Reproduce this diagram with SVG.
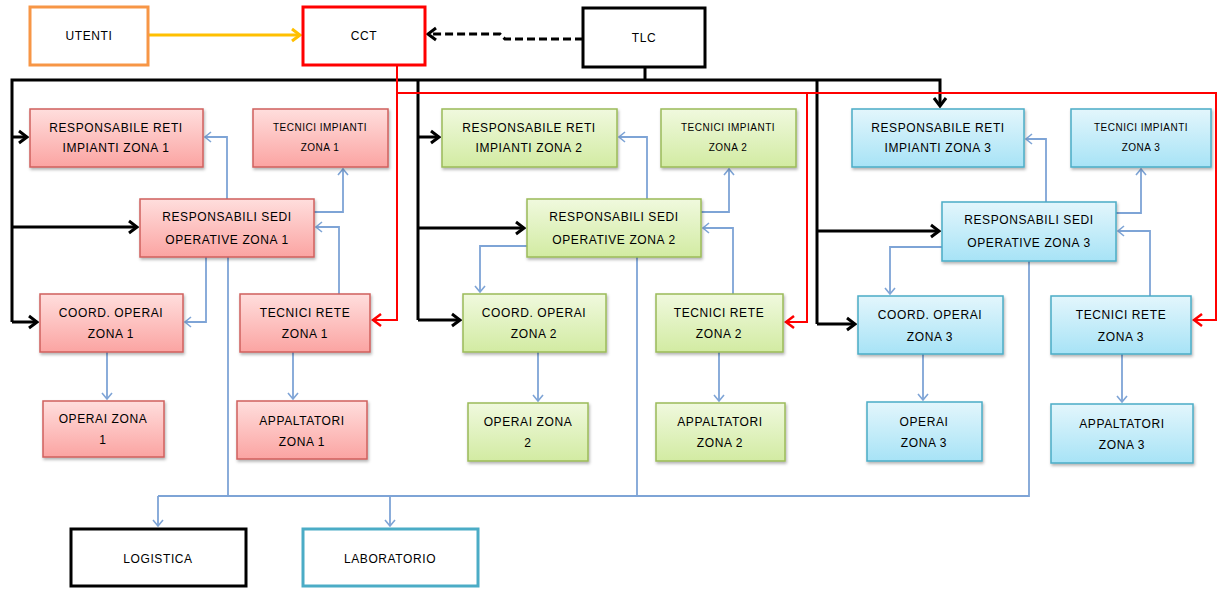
<svg xmlns="http://www.w3.org/2000/svg" width="1219" height="589" viewBox="0 0 1219 589">
<style>
text{font-family:"Liberation Sans",Arial,sans-serif;font-size:12px;fill:#000;text-anchor:middle;letter-spacing:0.6px}
.sm{font-size:10px;letter-spacing:0.5px}
.z1{fill:url(#gr);stroke:#D0605D;stroke-width:1.5;filter:url(#sh)}
.z2{fill:url(#gg);stroke:#9BBB59;stroke-width:1.5;filter:url(#sh)}
.z3{fill:url(#gb);stroke:#4BACC6;stroke-width:1.5;filter:url(#sh)}
.top{fill:#fff;stroke-width:3}
.bl{fill:none;stroke:#000;stroke-width:3}
.rd{fill:none;stroke:#FF0000;stroke-width:2}
.bu{fill:none;stroke:#7EA4D6;stroke-width:1.8}
</style>
<defs>
<linearGradient id="gr" x1="0" y1="0" x2="0" y2="1"><stop offset="0" stop-color="#FFDEDD"/><stop offset="1" stop-color="#FBA4A2"/></linearGradient>
<linearGradient id="gg" x1="0" y1="0" x2="0" y2="1"><stop offset="0" stop-color="#F0F9DE"/><stop offset="1" stop-color="#D2EBA2"/></linearGradient>
<linearGradient id="gb" x1="0" y1="0" x2="0" y2="1"><stop offset="0" stop-color="#E3F6FC"/><stop offset="1" stop-color="#A7E3F6"/></linearGradient>
<filter id="sh" x="-10%" y="-10%" width="125%" height="130%"><feDropShadow dx="1" dy="2" stdDeviation="1.5" flood-color="#000" flood-opacity="0.3"/></filter>
<marker id="ab" markerUnits="userSpaceOnUse" markerWidth="14" markerHeight="16" viewBox="-12 -8 14 16" refX="0" refY="0" orient="auto"><path d="M-8,-6 L0,0 L-8,6" fill="none" stroke="#000" stroke-width="3"/></marker>
<marker id="ar" markerUnits="userSpaceOnUse" markerWidth="14" markerHeight="16" viewBox="-12 -8 14 16" refX="0" refY="0" orient="auto"><path d="M-8,-6 L0,0 L-8,6" fill="none" stroke="#FF0000" stroke-width="2.5"/></marker>
<marker id="ay" markerUnits="userSpaceOnUse" markerWidth="14" markerHeight="16" viewBox="-12 -8 14 16" refX="0" refY="0" orient="auto"><path d="M-8,-6 L0,0 L-8,6" fill="none" stroke="#FFC000" stroke-width="3"/></marker>
<marker id="au" markerUnits="userSpaceOnUse" markerWidth="12" markerHeight="14" viewBox="-10 -7 12 14" refX="0" refY="0" orient="auto"><path d="M-6,-5 L0,0 L-6,5" fill="none" stroke="#7EA4D6" stroke-width="1.6"/></marker>
</defs>

<g id="connectors">
<path d="M148,35 H300" fill="none" stroke="#FFC000" stroke-width="3" marker-end="url(#ay)"/>
<path d="M583,39 H505 L500,34 H428" class="bl" stroke-dasharray="8,4" marker-end="url(#ab)"/>
<path d="M645,67 V80"  class="bl"/>
<path d="M12,322 V80 H940 V106" class="bl" marker-end="url(#ab)"/>
<path d="M12,137 H27" class="bl" marker-end="url(#ab)"/>
<path d="M12,227 H137" class="bl" marker-end="url(#ab)"/>
<path d="M12,322 H37" class="bl" marker-end="url(#ab)"/>
<path d="M418,80 V320" class="bl"/>
<path d="M418,137 H439" class="bl" marker-end="url(#ab)"/>
<path d="M418,228 H524" class="bl" marker-end="url(#ab)"/>
<path d="M418,320 H460" class="bl" marker-end="url(#ab)"/>
<path d="M817,80 V324" class="bl"/>
<path d="M817,231 H939" class="bl" marker-end="url(#ab)"/>
<path d="M817,324 H855" class="bl" marker-end="url(#ab)"/>
<path d="M397,65 V320 H373" class="rd" marker-end="url(#ar)"/>
<path d="M397,93 H1216 V320 H1194" class="rd" marker-end="url(#ar)"/>
<path d="M807,93 V322 H786" class="rd" marker-end="url(#ar)"/>
<path d="M227,199 V137 H205" class="bu" marker-end="url(#au)"/>
<path d="M314,212 H343 V169" class="bu" marker-end="url(#au)"/>
<path d="M339,294 V227 H316" class="bu" marker-end="url(#au)"/>
<path d="M206,257 V322 H185" class="bu" marker-end="url(#au)"/>
<path d="M107,352 V399" class="bu" marker-end="url(#au)"/>
<path d="M293,352 V399" class="bu" marker-end="url(#au)"/>
<path d="M647,199 V137 H619" class="bu" marker-end="url(#au)"/>
<path d="M701,212 H729 V169" class="bu" marker-end="url(#au)"/>
<path d="M733,294 V228 H703" class="bu" marker-end="url(#au)"/>
<path d="M527,246 H480 V292" class="bu" marker-end="url(#au)"/>
<path d="M538,352 V401" class="bu" marker-end="url(#au)"/>
<path d="M719,352 V401" class="bu" marker-end="url(#au)"/>
<path d="M1046,202 V139 H1026" class="bu" marker-end="url(#au)"/>
<path d="M1116,213 H1141 V169" class="bu" marker-end="url(#au)"/>
<path d="M1150,296 V231 H1118" class="bu" marker-end="url(#au)"/>
<path d="M942,247 H890 V294" class="bu" marker-end="url(#au)"/>
<path d="M923,354 V400" class="bu" marker-end="url(#au)"/>
<path d="M1122,354 V402" class="bu" marker-end="url(#au)"/>
<path d="M228,257 V496" class="bu"/>
<path d="M637,257 V496" class="bu"/>
<path d="M158,496 H1029 V261" class="bu"/>
<path d="M158,496 V526" class="bu" marker-end="url(#au)"/>
<path d="M390,496 V526" class="bu" marker-end="url(#au)"/>
</g>

<g id="utenti"><rect x="30" y="7" width="118" height="58" class="top" stroke="#F79646"/><text x="89" y="40">UTENTI</text></g>
<g id="cct"><rect x="303" y="7" width="122" height="58" class="top" stroke="#FF0000"/><text x="364" y="40">CCT</text></g>
<g id="tlc"><rect x="583" y="8" width="122" height="59" class="top" stroke="#000"/><text x="644" y="42">TLC</text></g>
<g id="logistica"><rect x="71" y="529" width="175" height="57" class="top" stroke="#000"/><text x="158" y="563">LOGISTICA</text></g>
<g id="laboratorio"><rect x="303" y="529" width="175" height="57" class="top" stroke="#4BACC6"/><text x="390" y="563">LABORATORIO</text></g>

<g id="z1-resp-reti"><rect x="30" y="109" width="173" height="58" class="z1"/><text x="116" y="132">RESPONSABILE RETI</text><text x="116" y="152">IMPIANTI ZONA 1</text></g>
<g id="z1-tecnici-impianti"><rect x="253" y="109" width="135" height="58" class="z1"/><text class="sm" x="320" y="131">TECNICI IMPIANTI</text><text class="sm" x="320" y="151">ZONA 1</text></g>
<g id="z1-resp-sedi"><rect x="140" y="199" width="174" height="58" class="z1"/><text x="227" y="221">RESPONSABILI SEDI</text><text x="227" y="244">OPERATIVE ZONA 1</text></g>
<g id="z1-coord"><rect x="40" y="294" width="143" height="58" class="z1"/><text x="111" y="317">COORD. OPERAI</text><text x="111" y="338">ZONA 1</text></g>
<g id="z1-tecnici-rete"><rect x="240" y="294" width="130" height="58" class="z1"/><text x="305" y="317">TECNICI RETE</text><text x="305" y="338">ZONA 1</text></g>
<g id="z1-operai"><rect x="43" y="401" width="121" height="56" class="z1"/><text x="103" y="423">OPERAI ZONA</text><text x="103" y="444">1</text></g>
<g id="z1-appaltatori"><rect x="237" y="401" width="130" height="58" class="z1"/><text x="302" y="425">APPALTATORI</text><text x="302" y="446">ZONA 1</text></g>

<g id="z2-resp-reti"><rect x="442" y="109" width="175" height="58" class="z2"/><text x="529" y="132">RESPONSABILE RETI</text><text x="529" y="152">IMPIANTI ZONA 2</text></g>
<g id="z2-tecnici-impianti"><rect x="661" y="109" width="135" height="58" class="z2"/><text class="sm" x="728" y="131">TECNICI IMPIANTI</text><text class="sm" x="728" y="151">ZONA 2</text></g>
<g id="z2-resp-sedi"><rect x="527" y="199" width="174" height="58" class="z2"/><text x="614" y="221">RESPONSABILI SEDI</text><text x="614" y="244">OPERATIVE ZONA 2</text></g>
<g id="z2-coord"><rect x="463" y="294" width="143" height="58" class="z2"/><text x="534" y="317">COORD. OPERAI</text><text x="534" y="338">ZONA 2</text></g>
<g id="z2-tecnici-rete"><rect x="656" y="294" width="127" height="58" class="z2"/><text x="719" y="317">TECNICI RETE</text><text x="719" y="338">ZONA 2</text></g>
<g id="z2-operai"><rect x="468" y="403" width="120" height="58" class="z2"/><text x="528" y="426">OPERAI ZONA</text><text x="528" y="447">2</text></g>
<g id="z2-appaltatori"><rect x="656" y="403" width="129" height="58" class="z2"/><text x="720" y="426">APPALTATORI</text><text x="720" y="447">ZONA 2</text></g>

<g id="z3-resp-reti"><rect x="852" y="109" width="172" height="58" class="z3"/><text x="938" y="132">RESPONSABILE RETI</text><text x="938" y="152">IMPIANTI ZONA 3</text></g>
<g id="z3-tecnici-impianti"><rect x="1071" y="109" width="140" height="58" class="z3"/><text class="sm" x="1141" y="131">TECNICI IMPIANTI</text><text class="sm" x="1141" y="151">ZONA 3</text></g>
<g id="z3-resp-sedi"><rect x="942" y="202" width="174" height="59" class="z3"/><text x="1029" y="224">RESPONSABILI SEDI</text><text x="1029" y="247">OPERATIVE ZONA 3</text></g>
<g id="z3-coord"><rect x="858" y="296" width="145" height="58" class="z3"/><text x="930" y="319">COORD. OPERAI</text><text x="930" y="341">ZONA 3</text></g>
<g id="z3-tecnici-rete"><rect x="1051" y="296" width="140" height="58" class="z3"/><text x="1121" y="319">TECNICI RETE</text><text x="1121" y="341">ZONA 3</text></g>
<g id="z3-operai"><rect x="867" y="402" width="115" height="59" class="z3"/><text x="924" y="426">OPERAI</text><text x="924" y="447">ZONA 3</text></g>
<g id="z3-appaltatori"><rect x="1051" y="404" width="142" height="59" class="z3"/><text x="1122" y="428">APPALTATORI</text><text x="1122" y="449">ZONA 3</text></g>
</svg>
